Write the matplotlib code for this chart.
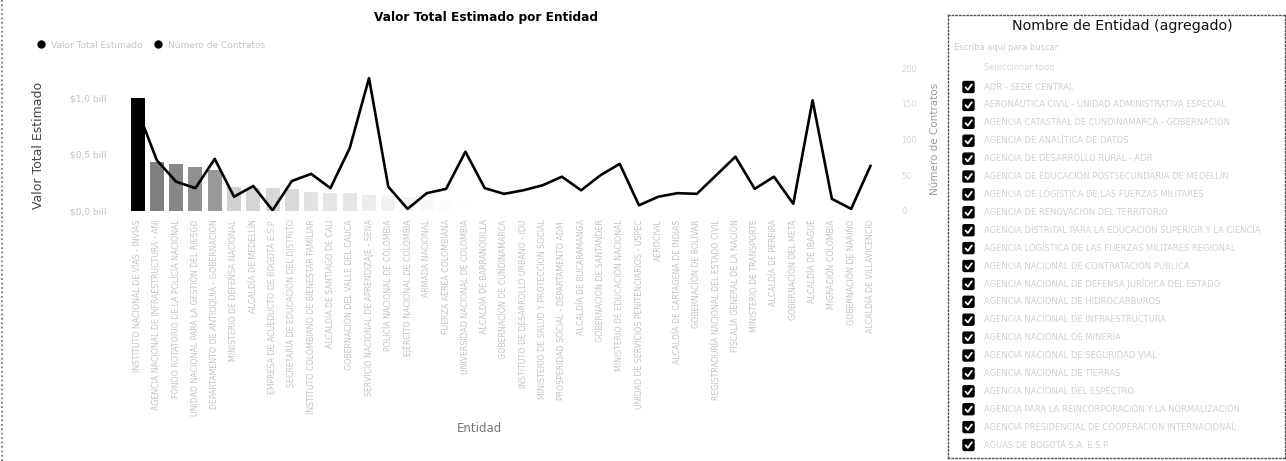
import numpy as np
import matplotlib
matplotlib.use("Agg")
import matplotlib.pyplot as plt
from matplotlib.colors import LinearSegmentedColormap, Normalize
from matplotlib.lines import Line2D
from matplotlib.patches import FancyBboxPatch

# --- data ---
entidades = [
    "INSTITUTO NACIONAL DE VÍAS - INVÍAS",
    "AGENCIA NACIONAL DE INFRAESTRUCTURA - ANI",
    "FONDO ROTATORIO DE LA POLICÍA NACIONAL",
    "UNIDAD NACIONAL PARA LA GESTIÓN DEL RIESGO",
    "DEPARTAMENTO DE ANTIOQUIA - GOBERNACIÓN",
    "MINISTERIO DE DEFENSA NACIONAL",
    "ALCALDÍA DE MEDELLÍN",
    "EMPRESA DE ACUEDUCTO DE BOGOTÁ E.S.P.",
    "SECRETARÍA DE EDUCACIÓN DEL DISTRITO",
    "INSTITUTO COLOMBIANO DE BIENESTAR FAMILIAR",
    "ALCALDÍA DE SANTIAGO DE CALI",
    "GOBERNACIÓN DEL VALLE DEL CAUCA",
    "SERVICIO NACIONAL DE APRENDIZAJE - SENA",
    "POLICÍA NACIONAL DE COLOMBIA",
    "EJÉRCITO NACIONAL DE COLOMBIA",
    "ARMADA NACIONAL",
    "FUERZA AÉREA COLOMBIANA",
    "UNIVERSIDAD NACIONAL DE COLOMBIA",
    "ALCALDÍA DE BARRANQUILLA",
    "GOBERNACIÓN DE CUNDINAMARCA",
    "INSTITUTO DE DESARROLLO URBANO - IDU",
    "MINISTERIO DE SALUD Y PROTECCIÓN SOCIAL",
    "PROSPERIDAD SOCIAL - DEPARTAMENTO ADM.",
    "ALCALDÍA DE BUCARAMANGA",
    "GOBERNACIÓN DE SANTANDER",
    "MINISTERIO DE EDUCACIÓN NACIONAL",
    "UNIDAD DE SERVICIOS PENITENCIARIOS - USPEC",
    "AEROCIVIL",
    "ALCALDÍA DE CARTAGENA DE INDIAS",
    "GOBERNACIÓN DE BOLÍVAR",
    "REGISTRADURÍA NACIONAL DEL ESTADO CIVIL",
    "FISCALÍA GENERAL DE LA NACIÓN",
    "MINISTERIO DE TRANSPORTE",
    "ALCALDÍA DE PEREIRA",
    "GOBERNACIÓN DEL META",
    "ALCALDÍA DE IBAGUÉ",
    "MIGRACIÓN COLOMBIA",
    "GOBERNACIÓN DE NARIÑO",
    "ALCALDÍA DE VILLAVICENCIO",
]

# Valor Total Estimado, in "bill"
valor_total = [1.00, 0.436, 0.416, 0.387, 0.363, 0.215, 0.205, 0.200, 0.195,
               0.170, 0.162, 0.158, 0.140, 0.130, 0.120, 0.110, 0.100, 0.095,
               0.090, 0.085, 0.080, 0.075, 0.070, 0.065, 0.060, 0.055, 0.050,
               0.045, 0.040, 0.037, 0.034, 0.031, 0.028, 0.025, 0.022, 0.019,
               0.016, 0.013, 0.010]

num_contratos = [141, 71, 41, 32, 73, 20, 35, 1, 42, 52, 32, 88, 186, 34, 3,
                 25, 31, 83, 32, 24, 29, 36, 48, 29, 50, 66, 8, 20, 25, 24,
                 50, 76, 31, 48, 10, 155, 17, 3, 63]

valor_ticks = [0.0, 0.5, 1.0]
valor_tick_labels = ["$0,0 bill", "$0,5 bill", "$1,0 bill"]
contratos_ticks = [0, 50, 100, 150, 200]

slicer_items = [
    "ADR - SEDE CENTRAL",
    "AERONÁUTICA CIVIL - UNIDAD ADMINISTRATIVA ESPECIAL",
    "AGENCIA CATASTRAL DE CUNDINAMARCA - GOBERNACIÓN",
    "AGENCIA DE ANALÍTICA DE DATOS",
    "AGENCIA DE DESARROLLO RURAL - ADR",
    "AGENCIA DE EDUCACIÓN POSTSECUNDARIA DE MEDELLÍN",
    "AGENCIA DE LOGÍSTICA DE LAS FUERZAS MILITARES",
    "AGENCIA DE RENOVACIÓN DEL TERRITORIO",
    "AGENCIA DISTRITAL PARA LA EDUCACIÓN SUPERIOR Y LA CIENCIA",
    "AGENCIA LOGÍSTICA DE LAS FUERZAS MILITARES REGIONAL",
    "AGENCIA NACIONAL DE CONTRATACIÓN PÚBLICA",
    "AGENCIA NACIONAL DE DEFENSA JURÍDICA DEL ESTADO",
    "AGENCIA NACIONAL DE HIDROCARBUROS",
    "AGENCIA NACIONAL DE INFRAESTRUCTURA",
    "AGENCIA NACIONAL DE MINERÍA",
    "AGENCIA NACIONAL DE SEGURIDAD VIAL",
    "AGENCIA NACIONAL DE TIERRAS",
    "AGENCIA NACIONAL DEL ESPECTRO",
    "AGENCIA PARA LA REINCORPORACIÓN Y LA NORMALIZACIÓN",
    "AGENCIA PRESIDENCIAL DE COOPERACIÓN INTERNACIONAL",
    "AGUAS DE BOGOTÁ S.A. E.S.P.",
]

W, H = 1286, 461
faint = "#c4c4c4"

fig = plt.figure(figsize=(W / 100, H / 100), dpi=100)

# main combo chart
ax = fig.add_axes([126 / W, 250 / H, 756 / W, 145 / H])
x = np.arange(len(entidades))
cmap = LinearSegmentedColormap.from_list("gris", ["#ffffff", "#000000"])
norm = Normalize(vmin=0.09, vmax=0.78, clip=True)
ax.bar(x, valor_total, width=0.72, color=cmap(norm(valor_total)), zorder=2)
ax.set_xlim(-0.6, len(entidades) - 0.4)
ax.set_ylim(0, 1.283)
ax.set_yticks(valor_ticks)
ax.set_yticklabels(valor_tick_labels)
ax.set_xticks(x)
ax.set_xticklabels(entidades, rotation=90, fontsize=5.7, color=faint)
ax.tick_params(axis="x", length=0, pad=6)
ax.tick_params(axis="y", length=0, pad=14, labelsize=6.5, labelcolor=faint)
for s in ax.spines.values():
    s.set_visible(False)
ax.set_ylabel("Valor Total Estimado", fontsize=9, color="#444444")
ax.yaxis.set_label_coords(-0.107, 0.45)

ax2 = ax.twinx()
ax2.plot(x, num_contratos, color="black", lw=1.9, zorder=3)
ax2.set_ylim(0, 203)
ax2.set_yticks(contratos_ticks)
ax2.tick_params(axis="y", length=0, pad=14, labelsize=6, labelcolor="#d8d8d8")
for s in ax2.spines.values():
    s.set_visible(False)
ax2.set_ylabel("Número de Contratos", fontsize=7.5, color="#9a9a9a", rotation=90)
ax2.yaxis.set_label_coords(1.063, 0.5)

fig.text(486 / W, 1 - 17 / H, "Valor Total Estimado por Entidad",
         ha="center", va="center", fontsize=8.7, fontweight="bold")
fig.text(480 / W, 1 - 428 / H, "Entidad", ha="center", va="center",
         fontsize=8.5, color="#777777")

handles = [Line2D([], [], marker="o", ls="", color="black", markersize=5)
           for _ in range(2)]
fig.legend(handles, ["Valor Total Estimado", "Número de Contratos"],
           loc="center left", bbox_to_anchor=(28 / W, 1 - 45 / H), ncol=2,
           frameon=False, fontsize=6.5, labelcolor=faint, handletextpad=0.1,
           columnspacing=0.8, borderaxespad=0)

# dotted frame on the left edge
fig.add_artist(Line2D([1.5 / W, 1.5 / W], [0, 1], color="#666666", lw=1.2, ls=":"))

# slicer panel
sax = fig.add_axes([948 / W, 3 / H, 337 / W, 443 / H])
sax.set_xlim(0, 337)
sax.set_ylim(443, 0)
sax.set_xticks([])
sax.set_yticks([])
for s in sax.spines.values():
    s.set_linestyle(":")
    s.set_color("#555555")
    s.set_linewidth(1.0)
sax.text(174, 11, "Nombre de Entidad (agregado)", ha="center", va="center",
         fontsize=10.3, color="#111111")
sax.text(6, 32, "Escriba aquí para buscar", ha="left", va="center",
         fontsize=6, color="#cccccc")
sax.text(36, 52, "Seleccionar todo", ha="left", va="center",
         fontsize=6, color="#d8d8d8")
for i, name in enumerate(slicer_items):
    yc = 72 + 17.9 * i
    box = FancyBboxPatch((15, yc - 5.5), 11, 11,
                         boxstyle="round,pad=0,rounding_size=1.5",
                         facecolor="black", edgecolor="black")
    sax.add_patch(box)
    sax.plot([17.5, 19.8, 23.8], [yc + 0.3, yc + 2.8, yc - 2.6],
             color="white", lw=1.3, solid_capstyle="round")
    sax.text(36, yc, name, ha="left", va="center", fontsize=6, color="#d0d0d0")

fig.savefig("out.png", dpi=100)
